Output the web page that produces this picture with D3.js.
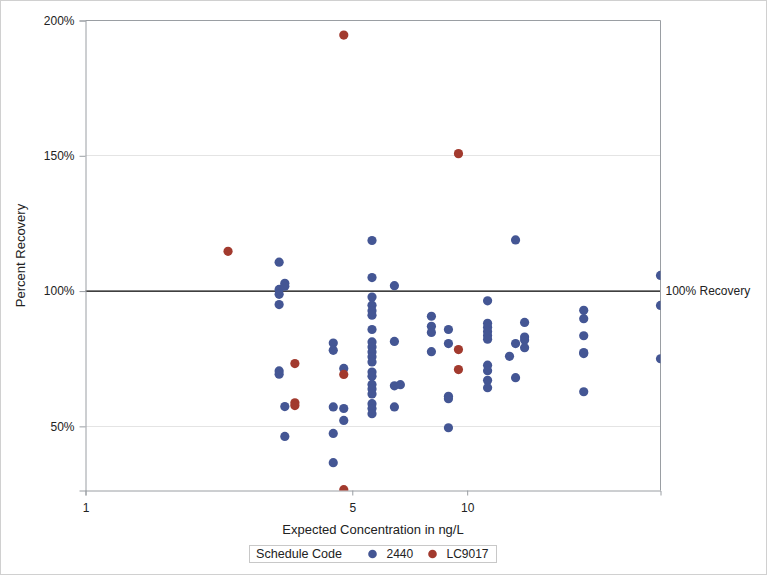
<!DOCTYPE html>
<html>
<head>
<meta charset="utf-8">
<script src="https://cdn.jsdelivr.net/npm/d3@7"></script>
<style>
  html, body { margin: 0; padding: 0; background: #fff; }
  svg { display: block; font-family: "Liberation Sans", Arial, sans-serif; }
</style>
</head>
<body>
<script>
// ---- Data ----
const seriesNames = ["2440", "LC9017"];
const conc2440 = [
  3.216, 3.216, 3.216, 3.216, 3.216, 3.216,
  3.328, 3.328, 3.328, 3.328,
  4.458, 4.458, 4.458, 4.458, 4.458,
  4.75, 4.75, 4.75,
  5.632, 5.632, 5.632, 5.632, 5.632, 5.632, 5.632, 5.632, 5.632, 5.632,
  5.632, 5.632, 5.632, 5.632, 5.632, 5.632, 5.632, 5.632, 5.632, 5.632,
  6.447, 6.447, 6.447, 6.447,
  6.683,
  8.059, 8.059, 8.059, 8.059,
  8.931, 8.931, 8.931, 8.931, 8.931,
  11.31, 11.31, 11.31, 11.31, 11.31, 11.31, 11.31, 11.31, 11.31, 11.31,
  12.91,
  13.39, 13.39, 13.39,
  14.14, 14.14, 14.14, 14.14,
  20.2, 20.2, 20.2, 20.2, 20.2, 20.2,
  32.1, 32.1, 32.1
];
const rec2440 = [
  110.7, 100.6, 98.8, 95.0, 70.5, 69.3,
  102.9, 101.8, 57.3, 46.3,
  80.8, 78.1, 57.2, 47.4, 36.6,
  71.4, 56.6, 52.2,
  118.7, 105.0, 97.8, 94.8, 92.7, 91.1, 85.8, 81.2, 79.3, 77.5,
  75.7, 73.8, 70.1, 68.5, 65.5, 63.8, 62.0, 58.4, 56.6, 54.7,
  102.0, 81.4, 65.0, 57.2,
  65.4,
  90.7, 87.0, 84.7, 77.6,
  85.8, 80.6, 61.1, 60.2, 49.5,
  96.4, 88.1, 86.6, 85.1, 83.6, 82.2, 72.6, 70.6, 67.0, 64.3,
  75.9,
  118.9, 80.6, 68.0,
  88.4, 83.0, 81.9, 79.1,
  92.9, 89.8, 83.5, 77.3, 76.9, 62.8,
  105.8, 94.7, 75.0
];
const concLC9017 = [2.363, 3.537, 3.537, 3.537, 4.75, 4.75, 4.75, 9.488, 9.488, 9.488];
const recLC9017  = [114.7, 73.2, 58.7, 57.7, 194.6, 69.2, 26.6, 150.8, 78.4, 71.0];

const xTicks = [1, 5, 10];
const yTicks = [50, 100, 150, 200];
const xDomain = [1, 32.1];
const yDomain = [26.3, 200];
const refValue = 100;
const refLabel = "100% Recovery";
const xTitle = "Expected Concentration in ng/L";
const yTitle = "Percent Recovery";
const legendTitle = "Schedule Code";
const colors = ["#445694", "#A23A2E"];

// ---- Layout ----
const W = 768, H = 576;
const m = { left: 85.5, top: 20.5, right: W - 660.5, bottom: H - 490.5 };
const pw = W - m.left - m.right, ph = H - m.top - m.bottom;

const svg = d3.select("body").append("svg").attr("width", W).attr("height", H);

// outer border
svg.append("rect").attr("x", 0.5).attr("y", 0.5).attr("width", W - 2).attr("height", H - 2)
  .attr("fill", "#fff").attr("stroke", "#d0d0d0");

const x = d3.scaleLog().domain(xDomain).range([0, pw]);
const y = d3.scaleLinear().domain(yDomain).range([ph, 0]);

const g = svg.append("g").attr("transform", `translate(${m.left},${m.top})`);

g.append("clipPath").attr("id", "clip").append("rect")
  .attr("x", 0).attr("y", 0).attr("width", pw).attr("height", ph);

// gridlines
g.append("g").selectAll("line").data(yTicks.filter(d => d !== refValue)).join("line")
  .attr("x1", 0).attr("x2", pw)
  .attr("y1", d => Math.round(y(d))).attr("y2", d => Math.round(y(d)))
  .attr("stroke", "#e4e4e4").attr("stroke-width", 1);

// reference line
g.append("line").attr("x1", 0).attr("x2", pw)
  .attr("y1", y(refValue)).attr("y2", y(refValue))
  .attr("stroke", "#000").attr("stroke-width", 1.2);
g.append("text").attr("x", pw + 5).attr("y", y(refValue)).attr("dy", "0.35em")
  .attr("font-size", 12).attr("fill", "#222").text(refLabel);

// axes
const yAxis = d3.axisLeft(y).tickValues(yTicks).tickSize(6).tickPadding(5).tickFormat(d => d + "%");
const xAxis = d3.axisBottom(x).tickValues(xTicks).tickSize(5).tickPadding(8).tickFormat(d3.format("d"));

const yg = g.append("g").call(yAxis);
const xg = g.append("g").attr("transform", `translate(0,${ph})`).call(xAxis);
[yg, xg].forEach(a => {
  a.select(".domain").attr("stroke", "#9a9ea3");
  a.selectAll(".tick line").attr("stroke", "#9a9ea3");
  a.selectAll(".tick text").attr("font-size", 12).attr("fill", "#222")
    .attr("font-family", "'Liberation Sans', Arial, sans-serif");
});

// top and right frame
g.append("line").attr("x1", 0).attr("x2", pw).attr("y1", 0).attr("y2", 0).attr("stroke", "#9a9ea3");
g.append("line").attr("x1", pw).attr("x2", pw).attr("y1", 0).attr("y2", ph).attr("stroke", "#9a9ea3");

// points
const pts = g.append("g").attr("clip-path", "url(#clip)");
const series = [
  { name: seriesNames[0], xs: conc2440, ys: rec2440, color: colors[0] },
  { name: seriesNames[1], xs: concLC9017, ys: recLC9017, color: colors[1] }
];
series.forEach(s => {
  pts.append("g").selectAll("circle").data(s.xs.map((v, i) => [v, s.ys[i]])).join("circle")
    .attr("cx", d => x(d[0])).attr("cy", d => y(d[1])).attr("r", 4.6)
    .attr("fill", s.color);
});

// axis titles
svg.append("text").attr("x", m.left + pw / 2).attr("y", 534)
  .attr("text-anchor", "middle").attr("font-size", 13).attr("fill", "#222").text(xTitle);
svg.append("text").attr("transform", `translate(25,${m.top + ph / 2}) rotate(-90)`)
  .attr("text-anchor", "middle").attr("font-size", 13).attr("fill", "#222").text(yTitle);

// legend
const lg = svg.append("g");
lg.append("rect").attr("x", 249.5).attr("y", 545.5).attr("width", 247).attr("height", 17)
  .attr("fill", "#fff").attr("stroke", "#c8c8c8");
lg.append("text").attr("x", 256).attr("y", 558).attr("font-size", 12.6).attr("fill", "#222").text(legendTitle);
const legX = [372.5, 432.5];
series.forEach((s, i) => {
  lg.append("circle").attr("cx", legX[i]).attr("cy", 554).attr("r", 4.3).attr("fill", s.color);
  lg.append("text").attr("x", legX[i] + 14).attr("y", 558).attr("font-size", 12).attr("fill", "#222").text(s.name);
});
</script>
</body>
</html>
